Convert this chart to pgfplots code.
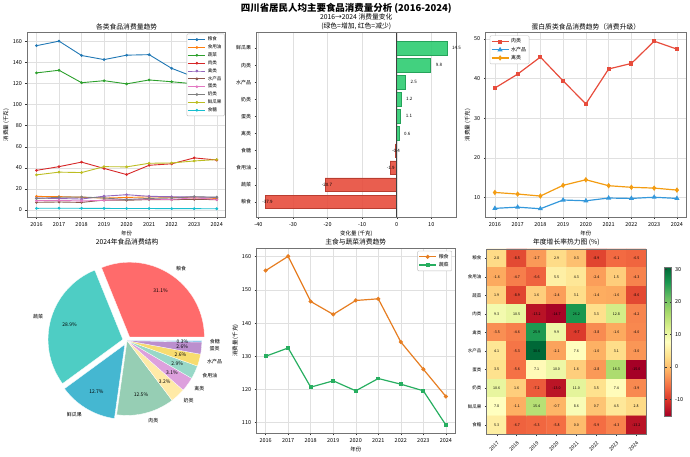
\documentclass[border=0pt]{standalone}
\usepackage{fontspec}
\setmainfont{Noto Sans CJK SC}
\usepackage{pgfplots}
\usepackage{pgfplotstable}
\pgfplotsset{compat=1.18}

\definecolor{t1}{HTML}{1F77B4}\definecolor{t2}{HTML}{FF7F0E}\definecolor{t3}{HTML}{2CA02C}
\definecolor{t4}{HTML}{D62728}\definecolor{t5}{HTML}{9467BD}\definecolor{t6}{HTML}{8C564B}
\definecolor{t7}{HTML}{E377C2}\definecolor{t8}{HTML}{7F7F7F}\definecolor{t9}{HTML}{BCBD22}
\definecolor{t10}{HTML}{17BECF}
\definecolor{barg}{HTML}{2ECC71}\definecolor{barr}{HTML}{E74C3C}
\definecolor{pred}{HTML}{E74C3C}\definecolor{pblue}{HTML}{3498DB}\definecolor{porange}{HTML}{F39C12}
\definecolor{corange}{HTML}{E67E22}\definecolor{cgreen}{HTML}{27AE60}
\definecolor{pie1}{HTML}{FF6B6B}\definecolor{pie2}{HTML}{4ECDC4}\definecolor{pie3}{HTML}{45B7D1}
\definecolor{pie4}{HTML}{96CEB4}\definecolor{pie5}{HTML}{FFEAA7}\definecolor{pie6}{HTML}{DDA0DD}
\definecolor{pie7}{HTML}{98D8C8}\definecolor{pie8}{HTML}{F7DC6F}\definecolor{pie9}{HTML}{BB8FCE}
\definecolor{pie10}{HTML}{85C1E9}

\pgfplotsset{
  colormap={RdYlGn}{rgb255=(165,0,38) rgb255=(215,48,39) rgb255=(244,109,67) rgb255=(253,174,97) rgb255=(254,224,139) rgb255=(255,255,191) rgb255=(217,239,139) rgb255=(166,217,106) rgb255=(102,189,99) rgb255=(26,152,80) rgb255=(0,104,55)},
  base/.style={scale only axis, anchor=south west,
    axis line style={black!55, line width=0.7pt},
    every tick/.style={black!80, line width=0.4pt},
    tick align=outside, major tick length=2pt,
    xtick pos=bottom, ytick pos=left,
    tick label style={font=\fontsize{5.5}{6}\selectfont},
    label style={font=\fontsize{5.5}{6}\selectfont},
    title style={font=\fontsize{6.8}{8.5}\selectfont, yshift=-6.5pt},
    grid style={black!12, line width=0.4pt},
    /pgf/number format/assume math mode=true,
    /pgf/number format/1000 sep={},
    xlabel style={yshift=3pt}, ylabel style={yshift=-3pt},
    legend cell align=left,
    legend style={font=\fontsize{4.6}{5}\selectfont, draw=black!25, rounded corners=1pt, inner sep=1pt, row sep=-1.5pt},
  },
}

\pgfplotstableread{
x y c
0 0 2.8
1 0 -8.5
2 0 -2.7
3 0 2.9
4 0 0.3
5 0 -8.9
6 0 -6.1
7 0 -6.5
0 1 -1.6
1 1 -4.7
2 1 -6.6
3 1 5.5
4 1 4.3
5 1 -2.4
6 1 1.5
7 1 -4.3
0 2 1.9
1 2 -8.9
2 2 1.6
3 2 -2.4
4 2 3.1
5 2 -1.4
6 2 -1.6
7 2 -8.6
0 3 9.3
1 3 10.5
2 3 -13.2
3 3 -14.7
4 3 26.2
5 3 3.3
6 3 12.8
7 3 -4.2
0 4 -3.5
1 4 -4.6
2 4 25.9
3 4 9.9
4 4 -9.7
5 4 -3.8
6 4 -1.6
7 4 -4.0
0 5 4.1
1 5 -5.3
2 5 30.6
3 5 -2.1
4 5 7.6
5 5 -1.0
6 5 3.1
7 5 -3.0
0 6 3.5
1 6 -5.6
2 6 7.1
3 6 10.0
4 6 1.6
5 6 -2.8
6 6 16.3
7 6 -15.0
0 7 10.6
1 7 1.6
2 7 -7.2
3 7 -13.0
4 7 11.0
5 7 3.5
6 7 7.4
7 7 -3.9
0 8 7.8
1 8 -1.1
2 8 15.4
3 8 -0.7
4 8 8.6
5 8 0.7
6 8 4.5
7 8 2.8
0 9 5.3
1 9 -6.7
2 9 -6.3
3 9 -5.8
4 9 0.0
5 9 -5.9
6 9 -4.3
7 9 -13.2
}\heat

\begin{document}
\begin{tikzpicture}
\path (0pt,0pt) rectangle (690pt,454pt);
\node[font=\fontsize{9.5}{10}\selectfont\bfseries] at (345pt,446.5pt) {四川省居民人均主要食品消费量分析 (2016-2024)};

% pie angles
\xdef\cum{0}
\foreach \v/\ex/\nm [count=\i] in {31.1/0.06/粮食, 28.9/0.06/蔬菜, 12.7/0.06/鲜瓜果, 12.5/0/肉类, 3.2/0/奶类, 3.1/0/禽类, 2.9/0/食用油, 2.6/0/水产品, 2.6/0/蛋类, 0.3/0/食糖} {
  \pgfmathsetmacro\s{\cum/99.9*360}
  \pgfmathsetmacro\e{(\cum+\v)/99.9*360}
  \pgfmathsetmacro\m{(\s+\e)/2}
  \pgfmathsetmacro\dx{\ex*cos(\m)}
  \pgfmathsetmacro\dy{\ex*sin(\m)}
  \pgfmathsetmacro\px{\dx+0.74*cos(\m)}
  \pgfmathsetmacro\py{\dy+0.74*sin(\m)}
  \pgfmathsetmacro\lx{\dx+1.1*cos(\m)}
  \pgfmathsetmacro\ly{\dy+1.1*sin(\m)}
  \pgfmathtruncatemacro\side{cos(\m)>=0}
  \pgfmathsetmacro\cc{\cum+\v}
  \expandafter\xdef\csname pS\i\endcsname{\s}
  \expandafter\xdef\csname pE\i\endcsname{\e}
  \expandafter\xdef\csname pDX\i\endcsname{\dx}
  \expandafter\xdef\csname pDY\i\endcsname{\dy}
  \expandafter\xdef\csname pPX\i\endcsname{\px}
  \expandafter\xdef\csname pPY\i\endcsname{\py}
  \expandafter\xdef\csname pLX\i\endcsname{\lx}
  \expandafter\xdef\csname pLY\i\endcsname{\ly}
  \expandafter\xdef\csname pV\i\endcsname{\v}
  \expandafter\xdef\csname pN\i\endcsname{\nm}
  \ifnum\side=1 \expandafter\xdef\csname pA\i\endcsname{west}\else\expandafter\xdef\csname pA\i\endcsname{east}\fi
  \xdef\cum{\cc}
}

% ---------- Panel 1
\begin{axis}[base, at={(25pt,237pt)}, width=199pt, height=185pt,
  xmin=2015.6, xmax=2024.4, ymin=-6.75, ymax=168,
  xtick={2016,...,2024}, ytick={0,20,...,160}, grid=major,
  title={各类食品消费量趋势}, xlabel={年份}, ylabel={消费量 (千克)},
  legend style={at={(0.995,0.995)}, anchor=north east},
  every axis plot/.append style={line width=0.9pt, mark=*, mark size=0.9pt},
  legend entries={粮食,食用油,蔬菜,肉类,禽类,水产品,蛋类,奶类,鲜瓜果,食糖}]
\addplot[t1] coordinates {(2016,155.8)(2017,160.1)(2018,146.5)(2019,142.6)(2020,146.8)(2021,147.3)(2022,134.3)(2023,126.1)(2024,117.9)};
\addplot[t2] coordinates {(2016,12.9)(2017,12.7)(2018,12.1)(2019,11.3)(2020,11.9)(2021,12.4)(2022,12.1)(2023,11.5)(2024,11.0)};
\addplot[t3] coordinates {(2016,130.0)(2017,132.5)(2018,120.7)(2019,122.6)(2020,119.6)(2021,123.3)(2022,121.6)(2023,119.6)(2024,109.3)};
\addplot[t4] coordinates {(2016,37.6)(2017,41.1)(2018,45.4)(2019,39.4)(2020,33.6)(2021,42.4)(2022,43.8)(2023,49.4)(2024,47.4)};
\addplot[t5] coordinates {(2016,11.3)(2017,10.9)(2018,10.4)(2019,13.1)(2020,14.5)(2021,13.0)(2022,12.6)(2023,12.4)(2024,11.9)};
\addplot[t6] coordinates {(2016,7.3)(2017,7.6)(2018,7.2)(2019,9.4)(2020,9.2)(2021,9.9)(2022,9.8)(2023,10.1)(2024,9.8)};
\addplot[t7] coordinates {(2016,8.8)(2017,9.1)(2018,8.6)(2019,9.2)(2020,10.1)(2021,10.3)(2022,10.0)(2023,11.6)(2024,9.9)};
\addplot[t8] coordinates {(2016,10.9)(2017,12.1)(2018,12.3)(2019,11.4)(2020,9.9)(2021,11.0)(2022,11.4)(2023,12.6)(2024,12.1)};
\addplot[t9] coordinates {(2016,33.3)(2017,35.9)(2018,35.5)(2019,41.1)(2020,40.9)(2021,44.3)(2022,44.6)(2023,46.5)(2024,47.8)};
\addplot[t10] coordinates {(2016,1.6)(2017,1.7)(2018,1.6)(2019,1.5)(2020,1.4)(2021,1.4)(2022,1.3)(2023,1.25)(2024,1.2)};
\end{axis}

% ---------- Panel 2
\begin{axis}[base, at={(255pt,237pt)}, width=200pt, height=185pt,
  xbar, bar width=0.8, bar shift=0pt,
  xmin=-40.52, xmax=17.12, ymin=-0.89, ymax=9.89,
  xtick={-40,-30,...,10}, ytick={0,...,9},
  yticklabels={粮食,蔬菜,食用油,食糖,禽类,蛋类,奶类,水产品,肉类,鲜瓜果},
  yticklabel style={font=\fontsize{5}{5.5}\selectfont},
  xmajorgrids,
  title style={align=center},
  title={2016→2024 消费量变化\\(绿色=增加, 红色=减少)}, xlabel={变化量 (千克)}]
\addplot[fill=barg, fill opacity=0.9, draw=barg!80!black, line width=0.5pt, point meta=x,
  nodes near coords={\pgfmathprintnumber[fixed,fixed zerofill,precision=1]{\pgfplotspointmeta}},
  nodes near coords style={anchor=west, xshift=1.7pt, font=\fontsize{4.5}{5}\selectfont, text=black, text opacity=1}]
  coordinates {(0.6,4)(1.1,5)(1.2,6)(2.5,7)(9.8,8)(14.5,9)};
\addplot[fill=barr, fill opacity=0.9, draw=barr!80!black, line width=0.5pt, point meta=x,
  nodes near coords={\pgfmathprintnumber[fixed,fixed zerofill,precision=1]{\pgfplotspointmeta}},
  nodes near coords style={anchor=west, xshift=-6.9pt, font=\fontsize{4.5}{5}\selectfont, text=black, text opacity=1}]
  coordinates {(-37.9,0)(-20.7,1)(-1.9,2)(-0.4,3)};
\draw[black!75, line width=0.6pt] (axis cs:0,-0.89) -- (axis cs:0,9.89);
\end{axis}

% ---------- Panel 3
\begin{axis}[base, at={(485pt,237pt)}, width=201pt, height=185pt,
  xmin=2015.6, xmax=2024.4, ymin=5.09, ymax=51.51,
  xtick={2016,...,2024}, ytick={10,20,...,50}, grid=major,
  title={蛋白质类食品消费趋势（消费升级）}, xlabel={年份}, ylabel={消费量 (千克)},
  legend style={at={(0.02,0.985)}, anchor=north west, font=\fontsize{5}{5.5}\selectfont},
  legend entries={肉类,水产品,禽类}]
\addplot[pred, line width=1.2pt, mark=square*, mark size=1.5pt] coordinates {(2016,37.6)(2017,41.1)(2018,45.4)(2019,39.4)(2020,33.6)(2021,42.4)(2022,43.8)(2023,49.4)(2024,47.4)};
\addplot[pblue, line width=1.2pt, mark=triangle*, mark size=1.8pt] coordinates {(2016,7.3)(2017,7.6)(2018,7.2)(2019,9.4)(2020,9.2)(2021,9.9)(2022,9.8)(2023,10.1)(2024,9.8)};
\addplot[porange, line width=1.2pt, mark=diamond*, mark size=1.8pt] coordinates {(2016,11.3)(2017,10.9)(2018,10.4)(2019,13.1)(2020,14.5)(2021,13.0)(2022,12.6)(2023,12.4)(2024,11.9)};
\end{axis}

% ---------- Panel 4 (pie)
\node[font=\fontsize{6.8}{7.5}\selectfont] at (125pt,212pt) {2024年食品消费结构};
\begin{axis}[at={(50pt,38pt)}, anchor=south west, scale only axis, width=150pt, height=150pt,
  xmin=-1, xmax=1, ymin=-1, ymax=1, hide axis, clip=false]
\pgfplotsinvokeforeach{1,...,10}{
  \addplot[fill=pie#1, draw=white, line width=0.3pt, domain=\csname pS#1\endcsname:\csname pE#1\endcsname, samples=60, variable=\t]
    ({\csname pDX#1\endcsname+cos(\t)}, {\csname pDY#1\endcsname+sin(\t)}) -- (axis cs:\csname pDX#1\endcsname,\csname pDY#1\endcsname) -- cycle;
}
\pgfplotsinvokeforeach{1,...,10}{
  \node[font=\fontsize{5}{5.5}\selectfont, inner sep=0pt] at (axis cs:\csname pPX#1\endcsname,\csname pPY#1\endcsname) {\csname pV#1\endcsname\%};
  \node[font=\fontsize{5}{5.5}\selectfont, inner sep=0.5pt, anchor=\csname pA#1\endcsname] at (axis cs:\csname pLX#1\endcsname,\csname pLY#1\endcsname) {\csname pN#1\endcsname};
}
\end{axis}

% ---------- Panel 5
\begin{axis}[base, at={(255pt,20pt)}, width=199pt, height=186pt,
  xmin=2015.6, xmax=2024.4, ymin=106.8, ymax=162.6,
  xtick={2016,...,2024}, ytick={110,120,...,160}, grid=major,
  title={主食与蔬菜消费趋势}, xlabel={年份}, ylabel={消费量 (千克)},
  legend style={at={(0.985,0.985)}, anchor=north east, font=\fontsize{5}{5.5}\selectfont},
  legend entries={粮食,蔬菜}]
\addplot[corange, line width=1.2pt, mark=*, mark size=1.4pt] coordinates {(2016,155.8)(2017,160.1)(2018,146.5)(2019,142.6)(2020,146.8)(2021,147.3)(2022,134.3)(2023,126.1)(2024,117.9)};
\addplot[cgreen, line width=1.2pt, mark=square*, mark size=1.3pt] coordinates {(2016,130.0)(2017,132.5)(2018,120.7)(2019,122.6)(2020,119.6)(2021,123.3)(2022,121.6)(2023,119.6)(2024,109.3)};
\end{axis}

% ---------- Panel 6 (heatmap)
\begin{axis}[base, at={(486pt,19pt)}, width=160pt, height=186pt,
  xmin=-0.5, xmax=7.5, ymin=-0.5, ymax=9.5, y dir=reverse, enlargelimits=false,
  xtick={0,...,7}, xticklabels={2017,2018,2019,2020,2021,2022,2023,2024},
  xticklabel style={rotate=45, anchor=north east, font=\fontsize{5}{5.5}\selectfont},
  ytick={0,...,9}, yticklabels={粮食,食用油,蔬菜,肉类,禽类,水产品,蛋类,奶类,鲜瓜果,食糖},
  yticklabel style={font=\fontsize{4.5}{5}\selectfont},
  title={年度增长率热力图 (\%)},
  colormap name=RdYlGn, point meta min=-15, point meta max=30.6,
  axis on top,
  colorbar,
  colorbar style={scale only axis, width=7pt, height=149pt, at={(parent axis.east)}, anchor=west, xshift=10pt,
    ytick={-10,0,10,20,30}, yticklabel style={font=\fontsize{5.5}{6}\selectfont},
    axis line style={black!55, line width=0.5pt}, major tick length=2pt,
    /pgf/number format/assume math mode=true}]
\addplot[matrix plot*, mesh/cols=8, point meta=explicit] table[x=x, y=y, meta=c] {\heat};
\addplot[draw=none, point meta=explicit,
  nodes near coords={\pgfmathprintnumber[fixed,fixed zerofill,precision=1]{\pgfplotspointmeta}},
  nodes near coords align=center,
  nodes near coords style={font=\fontsize{3.6}{4}\selectfont, text=black, anchor=center}]
  table[x=x, y=y, meta=c] {\heat};
\end{axis}
\end{tikzpicture}
\end{document}
